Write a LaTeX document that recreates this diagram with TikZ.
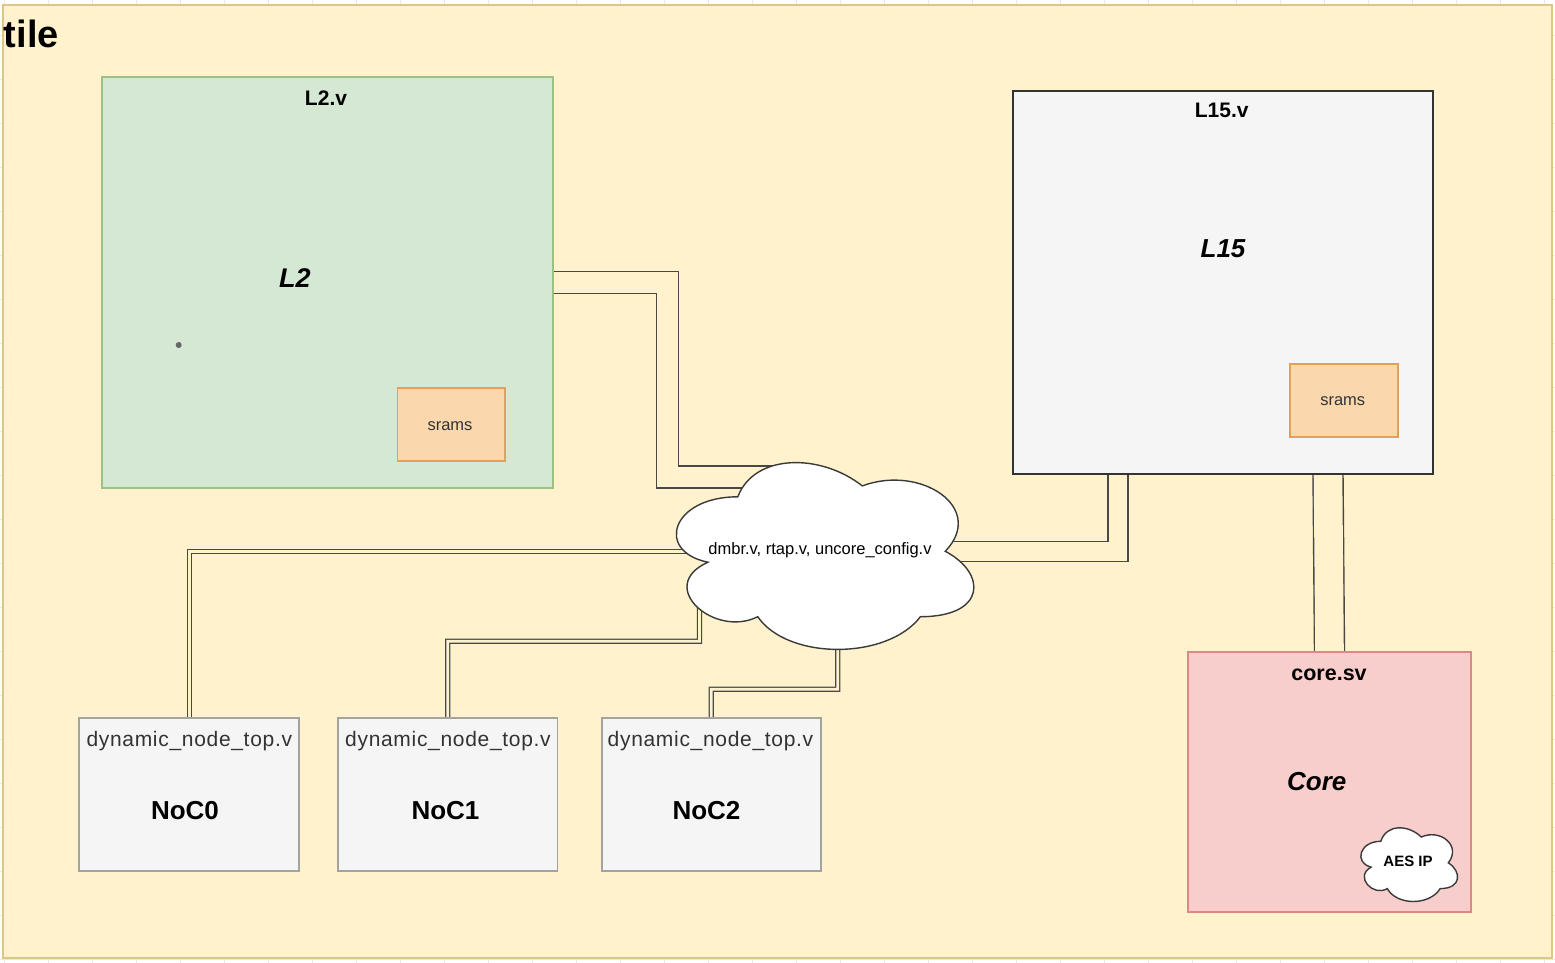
\documentclass[tikz,border=0pt]{standalone}
\usepackage{fontspec}
\setmainfont{Liberation Sans}
\newfontfamily\spacedfont[LetterSpace=3.3]{Liberation Sans}
\usetikzlibrary{calc}
\definecolor{tilefill}{HTML}{FFF2CC}
\definecolor{tileline}{HTML}{DDC787}
\definecolor{greenfill}{HTML}{D5E8D4}
\definecolor{greenline}{HTML}{9CC283}
\definecolor{grayfill}{HTML}{F5F5F5}
\definecolor{darkline}{HTML}{333333}
\definecolor{nocline}{HTML}{A3A3A0}
\definecolor{orangefill}{HTML}{FAD7AC}
\definecolor{orangeline}{HTML}{E0A060}
\definecolor{redfill}{HTML}{F8CECC}
\definecolor{redline}{HTML}{DB8986}
\definecolor{linkcol}{HTML}{484848}
\definecolor{gridcol}{HTML}{E8E8E8}
\definecolor{txtgray}{HTML}{333333}
\definecolor{dotcol}{HTML}{666666}
\definecolor{cloudline}{HTML}{3A3A3A}
\pgfdeclarelayer{back}
\pgfdeclarelayer{mid}
\pgfsetlayers{back,mid,main}
\newcommand\dioCloud[3]{%
  \begin{scope}[shift={(#1.north west)},x=#2pt,y=-#3pt]
    \filldraw[cloudstyle] (0.25,0.25) .. controls (0.05,0.25) and (0,0.5) .. (0.16,0.55)
      .. controls (0,0.66) and (0.18,0.9) .. (0.31,0.8)
      .. controls (0.4,1) and (0.7,1) .. (0.8,0.8)
      .. controls (1,0.8) and (1,0.6) .. (0.875,0.5)
      .. controls (1,0.3) and (0.8,0.1) .. (0.625,0.2)
      .. controls (0.5,0.05) and (0.3,0.05) .. (0.25,0.25) -- cycle;
  \end{scope}}
\begin{document}
\begin{tikzpicture}[x=1pt,y=-1pt,
  box/.style={rectangle, inner sep=0pt, outer sep=0pt, line width=1.7pt},
  link/.style={draw=linkcol, line width=1.4pt, double=tilefill, line join=miter},
  thinlink/.style={link, line width=1.25pt, double distance=2.75pt},
  lbl/.style={inner sep=0pt, outer sep=0pt, anchor=base},
  cloudstyle/.style={fill=white, draw=cloudline, line width=1.4pt},
  fsub/.style={font={\fontsize{21}{25}\selectfont\bfseries}},
  fbig/.style={font={\fontsize{26}{31}\selectfont\bfseries\itshape}},
  fnoc/.style={font={\fontsize{26}{31}\selectfont\bfseries}},
  fsmall/.style={font={\fontsize{16.5}{20}\selectfont}},
  fdyn/.style={font={\spacedfont\fontsize{21}{25}\selectfont}, text=txtgray}]
\useasboundingbox (0,0) rectangle (1555,963);

\begin{pgfonlayer}{back}
  \fill[white] (0,0) rectangle (1555,963);
  \foreach \gx in {4,48,...,1555} {\draw[gridcol,line width=0.8pt] (\gx,0) -- (\gx,963);}
  \foreach \gy in {35,79,...,963} {\draw[gridcol,line width=0.8pt] (0,\gy) -- (1555,\gy);}
  \node[box, fill=tilefill, draw=tileline, line width=1.8pt, minimum width=1549pt, minimum height=953pt] (tile) at (777.5,481.5) {};
\end{pgfonlayer}
\node[lbl, anchor=base west, font={\fontsize{38}{44}\selectfont\bfseries}] (tilet) at (4,48) {tile};

% L2
\node[box, fill=greenfill, draw=greenline, minimum width=451pt, minimum height=410.4pt] (L2) at (327.2,282.5) {};
\node[lbl, fsub] (L2v) at (326,106) {L2.v};
\node[lbl, font={\fontsize{27}{32}\selectfont\bfseries\itshape}] (L2t) at (295,287) {L2};
\node[circle, fill=dotcol, inner sep=0pt, minimum size=6pt] (dot) at (178.7,345) {};
\node[box, fill=orangefill, draw=orangeline, minimum width=107.7pt, minimum height=72.4pt] (L2s) at (451.2,424.5) {};
\node[lbl, fsmall, text=txtgray] (L2st) at (450,430) {srams};

% L15
\node[box, fill=grayfill, draw=darkline, line width=1.9pt, minimum width=420.6pt, minimum height=383.6pt] (L15) at (1223,282.5) {};
\node[lbl, fsub] (L15v) at (1221.7,118) {L15.v};
\node[lbl, fbig] (L15t) at (1223,257.3) {L15};
\node[box, fill=orangefill, draw=orangeline, minimum width=107.7pt, minimum height=72.7pt] (L15s) at (1343.9,400.4) {};
\node[lbl, fsmall, text=txtgray] (L15st) at (1342.7,405) {srams};

% Core
\node[box, fill=redfill, draw=redline, minimum width=282.4pt, minimum height=260.6pt] (Core) at (1329.5,782) {};
\node[lbl, font={\fontsize{21.5}{25}\selectfont\bfseries}] (coresv) at (1329,680.7) {core.sv};
\node[lbl, fbig] (coret) at (1316.7,790) {Core};
\node[inner sep=0pt, minimum width=108pt, minimum height=86pt] (aes) at (1408,863) {};
\dioCloud{aes}{108}{86}
\node[lbl, font={\fontsize{15}{18}\selectfont\bfseries}] (aest) at (1408,866.7) {AES IP};

% NoCs
\node[box, fill=grayfill, draw=nocline, line width=1.8pt, minimum width=219.7pt, minimum height=153pt] (NoC0) at (189.2,794.5) {};
\node[lbl, fdyn] (dyn0) at (189.3,746) {dynamic\_node\_top.v};
\node[lbl, fnoc] (noc0t) at (185,819) {NoC0};
\node[box, fill=grayfill, draw=nocline, line width=1.8pt, minimum width=219.5pt, minimum height=153pt] (NoC1) at (447.8,794.5) {};
\node[lbl, fdyn] (dyn1) at (448,746) {dynamic\_node\_top.v};
\node[lbl, fnoc] (noc1t) at (445.5,819) {NoC1};
\node[box, fill=grayfill, draw=nocline, line width=1.8pt, minimum width=219.3pt, minimum height=153pt] (NoC2) at (711.3,794.5) {};
\node[lbl, fdyn] (dyn2) at (710.5,746) {dynamic\_node\_top.v};
\node[lbl, fnoc] (noc2t) at (706.5,819) {NoC2};

% central cloud
\node[inner sep=0pt, minimum width=332pt, minimum height=218pt] (cloud) at (821,551.5) {};
\coordinate (cin) at (800,477);
\dioCloud{cloud}{332}{218}
\node[lbl, fsmall] (cloudt) at (820,554) {dmbr.v, rtap.v, uncore\_config.v};

% links
\begin{pgfonlayer}{mid}
  \draw[link, double distance=20.6pt] (L2.east) -| (667.5,477) -- (cin);
  \draw[link, double distance=18.6pt] (L15.south -| 1118,0) |- (cloud.center);
  \draw[link, double distance=28.6pt] (L15.south -| 1328,0) -- (Core.north -| 1329.5,0);
  \draw[thinlink] (NoC0.north) |- (cloud.center);
  \draw[thinlink] (NoC1.north) |- (699.5,641.3) -- (699.5,595) -- (cloud.center);
  \draw[thinlink] (NoC2.north) |- (837.7,689.3) -- (837.7,600) -- (cloud.center);
\end{pgfonlayer}
\end{tikzpicture}
\end{document}
